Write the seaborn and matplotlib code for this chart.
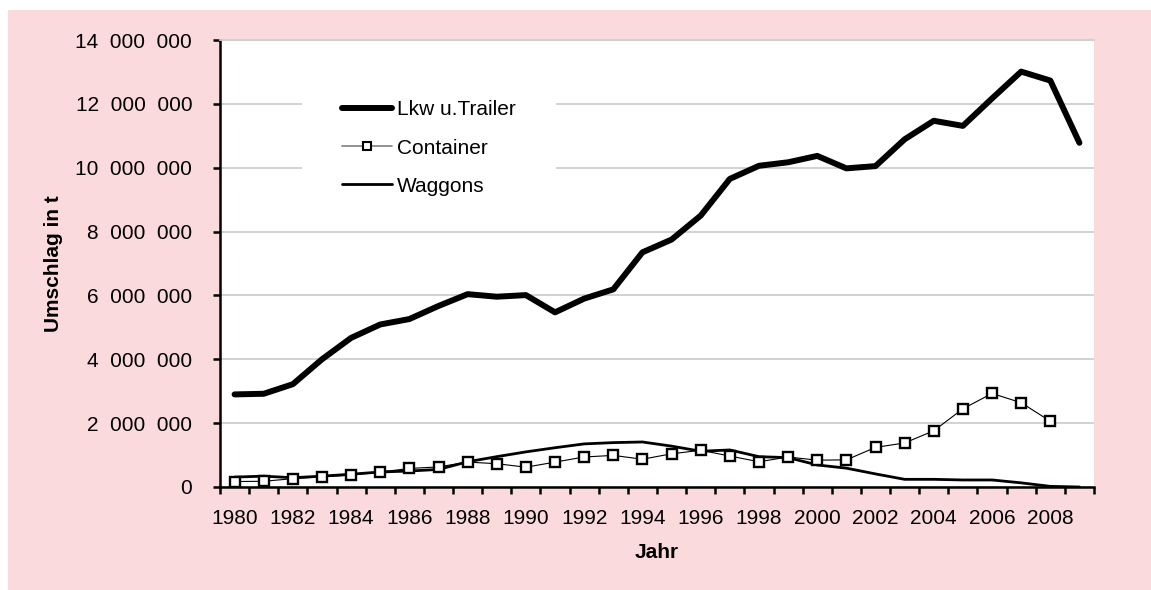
import matplotlib
matplotlib.use("Agg")
import matplotlib.pyplot as plt
from matplotlib.lines import Line2D
from matplotlib.patches import Rectangle
from matplotlib.ticker import FixedLocator, FuncFormatter
import seaborn as sns
import pandas as pd

# Umschlag nach Ladungsart, 1980-2009 (t)
years = list(range(1980, 2010))
lkw_trailer = [2900000, 2920000, 3220000, 4000000, 4670000, 5090000, 5260000, 5670000,
               6040000, 5960000, 6010000, 5470000, 5900000, 6190000, 7350000, 7750000,
               8500000, 9650000, 10060000, 10170000, 10370000, 9980000, 10050000,
               10890000, 11470000, 11310000, 12170000, 13010000, 12730000, 10780000]
container_years = list(range(1980, 2009))
container = [170000, 180000, 260000, 320000, 370000, 470000, 580000, 630000, 780000,
             730000, 620000, 780000, 940000, 990000, 870000, 1040000, 1150000, 970000,
             790000, 940000, 840000, 850000, 1240000, 1380000, 1760000, 2450000,
             2930000, 2640000, 2060000]
waggons = [310000, 340000, 290000, 340000, 400000, 470000, 500000, 550000, 790000,
           950000, 1100000, 1230000, 1350000, 1390000, 1410000, 1280000, 1120000,
           1160000, 950000, 920000, 690000, 590000, 410000, 240000, 240000, 220000,
           220000, 130000, 20000, 0]

y_ticks = [0, 2000000, 4000000, 6000000, 8000000, 10000000, 12000000, 14000000]
x_label_years = list(range(1980, 2010, 2))

df_lkw = pd.DataFrame({"Jahr": years, "t": lkw_trailer})
df_cont = pd.DataFrame({"Jahr": container_years, "t": container})
df_wag = pd.DataFrame({"Jahr": years, "t": waggons})

sns.set_style("white")
plt.rcParams["font.family"] = ["Liberation Sans", "DejaVu Sans"]
plt.rcParams["text.color"] = "black"
plt.rcParams["axes.labelcolor"] = "black"
plt.rcParams["xtick.color"] = "black"
plt.rcParams["ytick.color"] = "black"

W, H = 1151, 590
fig = plt.figure(figsize=(W / 100, H / 100), dpi=100, facecolor="white")
pink = "#FBDADD"
fig.add_artist(Rectangle((8 / W, 0), 1 - 8 / W, 1 - 10 / H,
                         transform=fig.transFigure, facecolor=pink,
                         edgecolor="none", zorder=-10))

ax = fig.add_axes([220 / W, 1 - 487 / H, (1094 - 220) / W, (487 - 40) / H])
ax.set_facecolor("white")

sns.lineplot(data=df_lkw, x="Jahr", y="t", ax=ax, color="black", linewidth=4.3,
             solid_capstyle="round", solid_joinstyle="round", zorder=3)
sns.lineplot(data=df_wag, x="Jahr", y="t", ax=ax, color="black", linewidth=2.0,
             zorder=3)
sns.lineplot(data=df_cont, x="Jahr", y="t", ax=ax, color="black", linewidth=0.8,
             marker="s", markersize=6.5, markerfacecolor="white",
             markeredgecolor="black", markeredgewidth=1.7, zorder=4)

ax.set_xlim(1979.5, 2009.5)
ax.set_ylim(0, 14000000)

ax.yaxis.set_major_locator(FixedLocator(y_ticks))
ax.yaxis.set_major_formatter(FuncFormatter(
    lambda v, p: f"{int(v):,}".replace(",", "  ")))
ax.xaxis.set_major_locator(FixedLocator(x_label_years))
ax.xaxis.set_minor_locator(FixedLocator([y - 0.5 for y in years] + [2009.5]))
ax.xaxis.set_major_formatter(FuncFormatter(lambda v, p: f"{int(v)}"))

ax.grid(axis="y", color="#CFCFCF", linewidth=1.3, zorder=0)
ax.set_axisbelow(True)

for side in ("left", "bottom"):
    ax.spines[side].set_color("black")
    ax.spines[side].set_linewidth(1.8)
ax.spines["top"].set_color("#CFCFCF")
ax.spines["top"].set_linewidth(1.3)
ax.spines["right"].set_visible(False)

ax.tick_params(axis="y", which="major", direction="out", length=5, width=1.8,
               color="black", labelcolor="black", labelsize=15, pad=15, left=True)
ax.tick_params(axis="x", which="major", length=0, labelsize=15, pad=16,
               labelcolor="black")
ax.tick_params(axis="x", which="minor", direction="out", length=5, width=1.8,
               color="black", bottom=True)

ax.set_xlabel("Jahr", fontsize=15, fontweight="bold", color="black")
ax.set_ylabel("Umschlag in t", fontsize=15, fontweight="bold", color="black")
ax.yaxis.set_label_coords((63 - 220) / 874, 0.5)
ax.xaxis.set_label_coords(0.5, (487 - 543) / 447)

# white legend area masking the gridlines behind it
ax.add_patch(Rectangle((82 / 874, 275 / 447), 254 / 874, 140 / 447,
                       transform=ax.transAxes, facecolor="white",
                       edgecolor="none", zorder=1))

handles = [
    Line2D([], [], color="black", linewidth=4.3),
    Line2D([], [], color="#7F7F7F", linewidth=1.2, marker="s", markersize=5.5,
           markerfacecolor="white", markeredgecolor="black", markeredgewidth=1.5),
    Line2D([], [], color="black", linewidth=2.0),
]
leg = ax.legend(handles, ["Lkw u.Trailer", "Container", "Waggons"],
                loc="center left", bbox_to_anchor=(122 / 874, 339 / 447),
                fontsize=15, frameon=False, borderpad=0,
                borderaxespad=0, handlelength=2.4, handletextpad=0.25,
                labelspacing=0.92)
for txt in leg.get_texts():
    txt.set_color("black")
leg.set_zorder(5)

fig.savefig("out.png", dpi=100, facecolor=fig.get_facecolor())
